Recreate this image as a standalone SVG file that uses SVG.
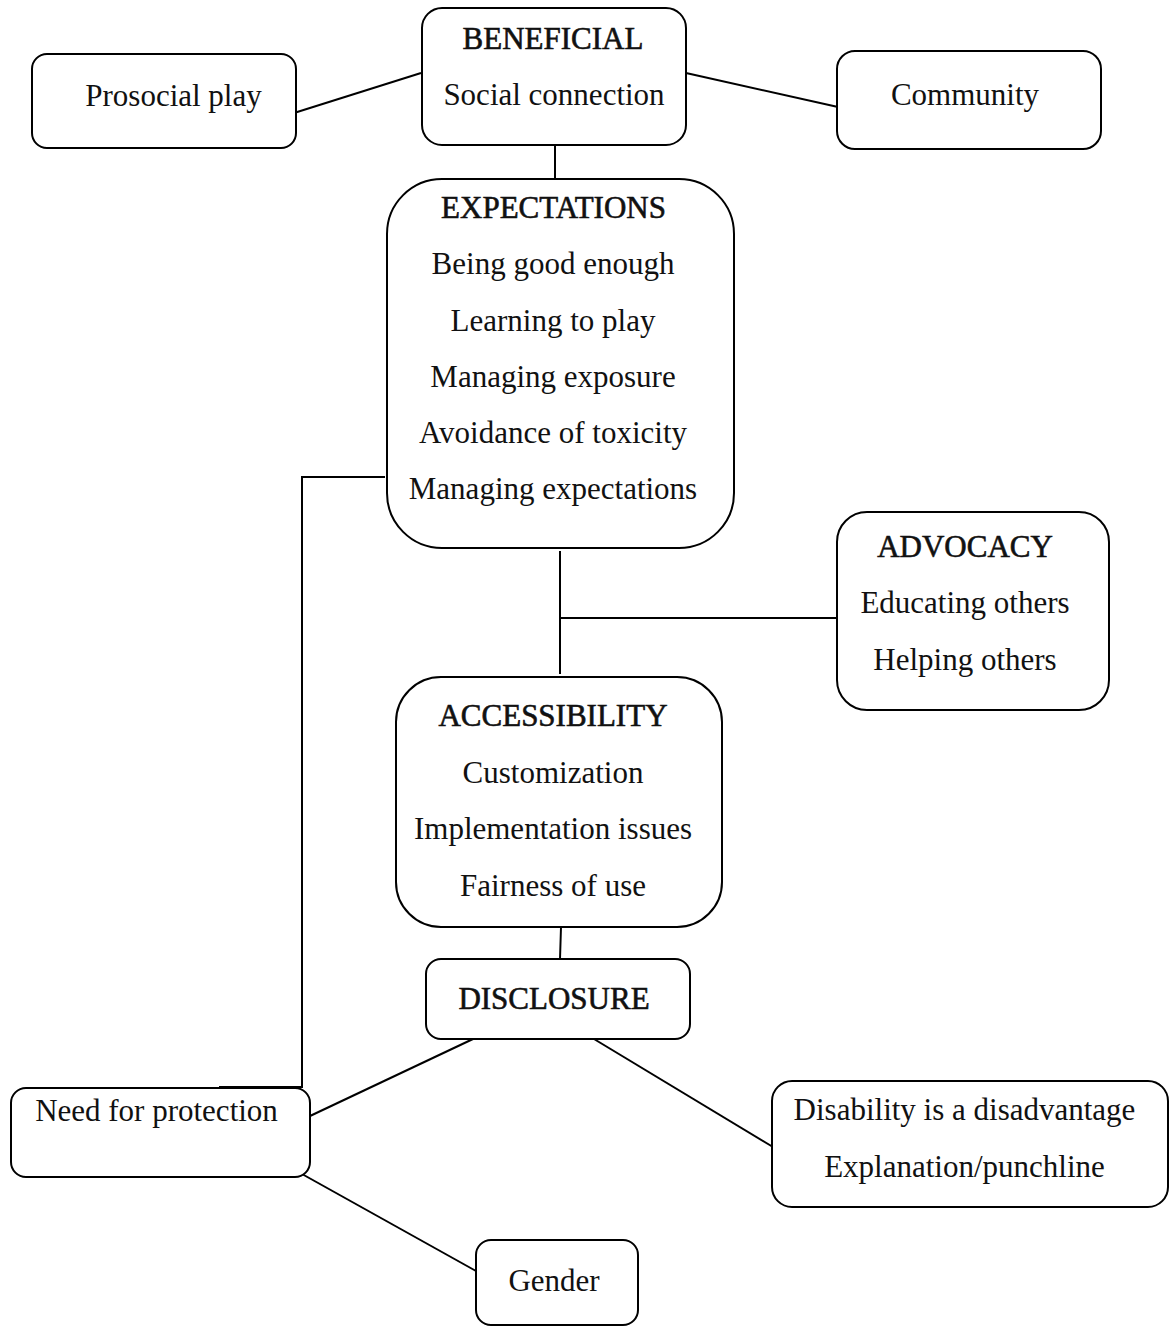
<svg xmlns="http://www.w3.org/2000/svg" width="1176" height="1327" viewBox="0 0 1176 1327">
<style>
.box{fill:#fff;stroke:#000;stroke-width:2}
.t{font-family:"Liberation Serif","Times New Roman",serif;font-size:31px;fill:#111;text-anchor:middle}
.h{stroke:#111;stroke-width:0.6}
.c{fill:none;stroke:#000;stroke-width:2}
</style>
<rect width="1176" height="1327" fill="#fff"/>
<g id="connectors">
<path class="c" d="M294,113 L421,73"/>
<path class="c" d="M686,73 L838,107"/>
<path class="c" d="M555,145 V179"/>
<path class="c" d="M385,477 H302 V1087 H219"/>
<path class="c" d="M560,551 V674"/>
<path class="c" d="M560,618 H840"/>
<path class="c" d="M561,927 L560,959"/>
<path class="c" d="M473,1039 L310,1116"/>
<path class="c" d="M594,1039 L773,1147"/>
<path class="c" d="M302,1174 L476,1271"/>
</g>
<g id="beneficial">
<rect class="box" x="422" y="8" width="264" height="137" rx="20"/>
<text class="t h" x="553" y="49">BENEFICIAL</text>
<text class="t" x="554" y="105">Social connection</text>
</g>
<g id="prosocial">
<rect class="box" x="32" y="54" width="264" height="94" rx="15"/>
<text class="t" x="173.5" y="106">Prosocial play</text>
</g>
<g id="community">
<rect class="box" x="837" y="51" width="264" height="98" rx="18"/>
<text class="t" x="965" y="105">Community</text>
</g>
<g id="expectations">
<rect class="box" x="387" y="179" width="347" height="369" rx="55"/>
<text class="t h" x="553.5" y="218">EXPECTATIONS</text>
<text class="t" x="553" y="274">Being good enough</text>
<text class="t" x="553" y="331">Learning to play</text>
<text class="t" x="553" y="387">Managing exposure</text>
<text class="t" x="553" y="443">Avoidance of toxicity</text>
<text class="t" x="553" y="499">Managing expectations</text>
</g>
<g id="advocacy">
<rect class="box" x="837" y="512" width="272" height="198" rx="30"/>
<text class="t h" x="965" y="557">ADVOCACY</text>
<text class="t" x="965" y="613">Educating others</text>
<text class="t" x="965" y="670">Helping others</text>
</g>
<g id="accessibility">
<rect class="box" x="396" y="677" width="326" height="250" rx="45"/>
<text class="t h" x="553" y="726">ACCESSIBILITY</text>
<text class="t" x="553" y="783">Customization</text>
<text class="t" x="553" y="839">Implementation issues</text>
<text class="t" x="553" y="896">Fairness of use</text>
</g>
<g id="disclosure">
<rect class="box" x="426" y="959" width="264" height="80" rx="15"/>
<text class="t h" x="554" y="1009">DISCLOSURE</text>
</g>
<g id="need-for-protection">
<rect class="box" x="11" y="1088" width="299" height="89" rx="15"/>
<text class="t" x="156.5" y="1121">Need for protection</text>
</g>
<g id="gender">
<rect class="box" x="476" y="1240" width="162" height="85" rx="15"/>
<text class="t" x="554" y="1291">Gender</text>
</g>
<g id="disability">
<rect class="box" x="772" y="1081" width="396" height="126" rx="20"/>
<text class="t" x="964.5" y="1120">Disability is a disadvantage</text>
<text class="t" x="964.5" y="1177">Explanation/punchline</text>
</g>
</svg>
